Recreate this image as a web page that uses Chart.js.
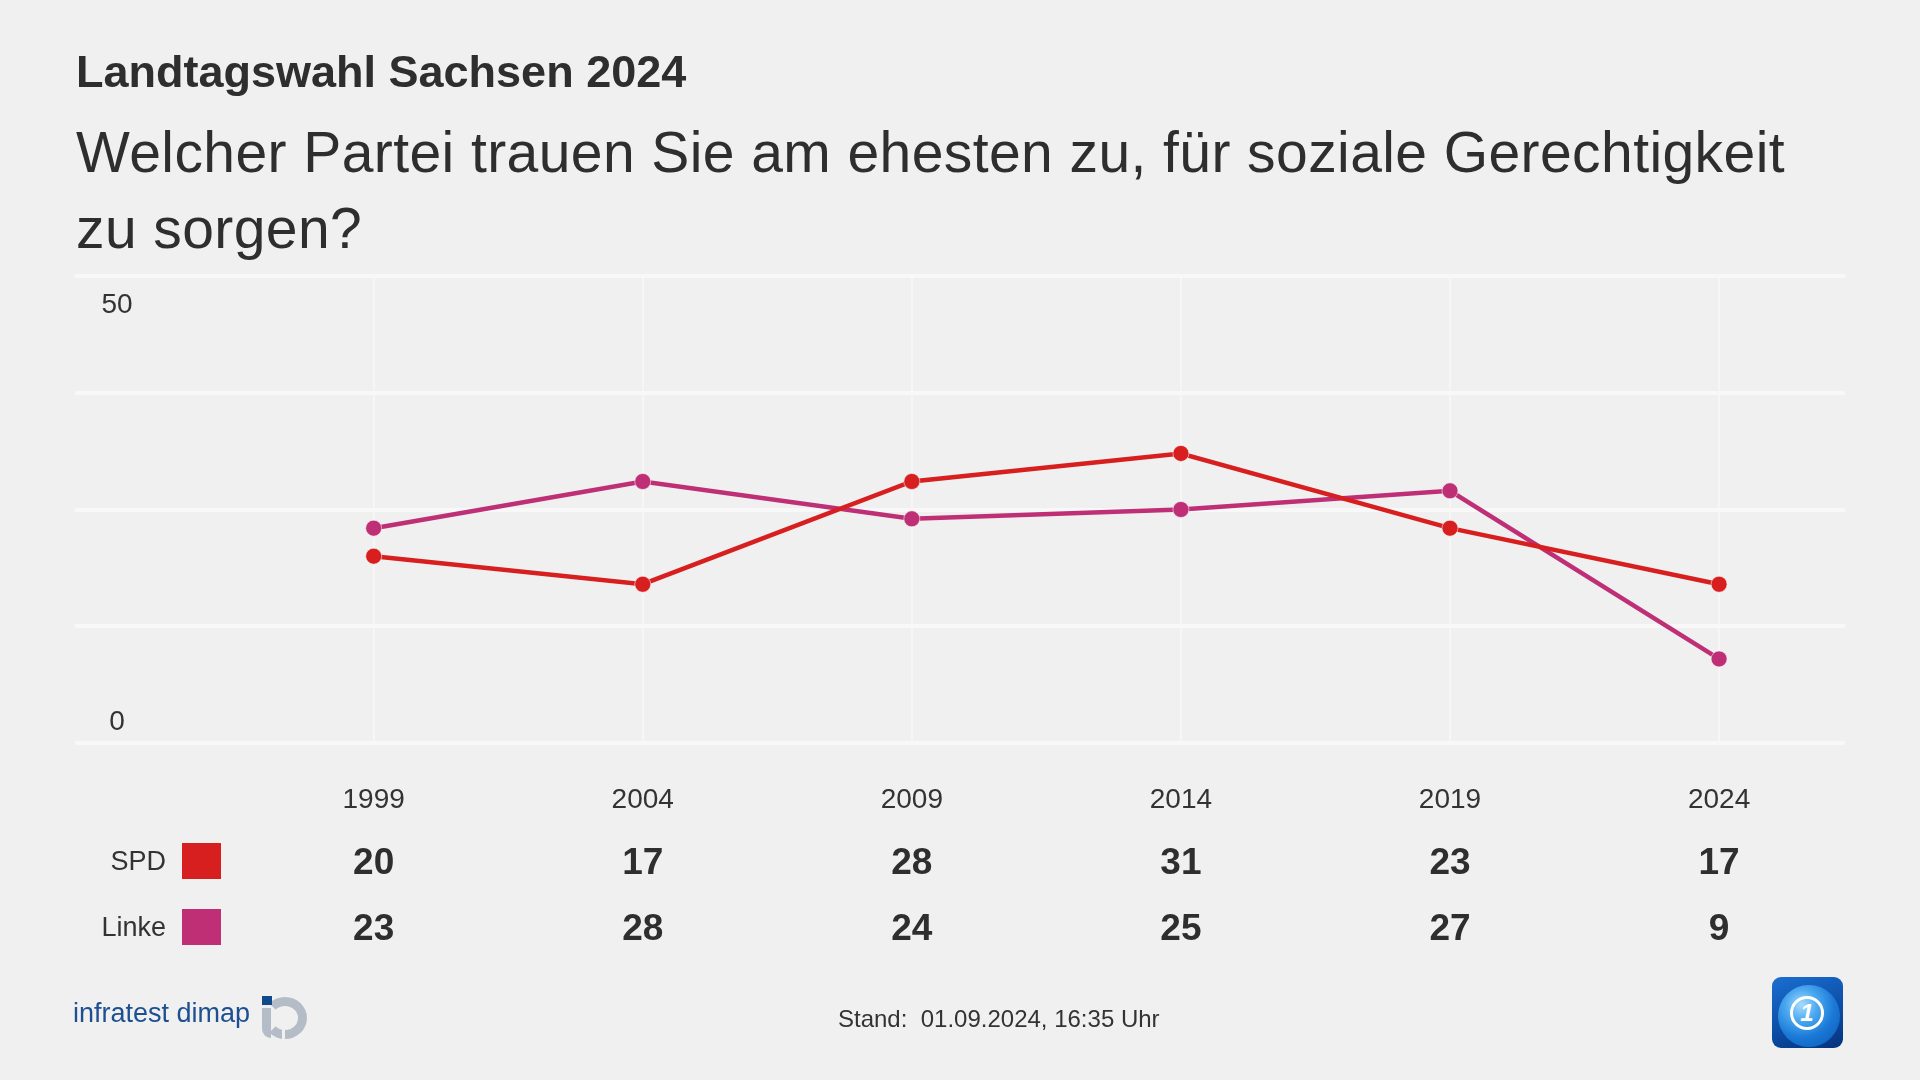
<!DOCTYPE html>
<html lang="de">
<head>
<meta charset="utf-8">
<title>Landtagswahl Sachsen 2024</title>
<script src="https://cdn.jsdelivr.net/npm/chart.js@4/dist/chart.umd.min.js"></script>
<style>
  html, body { margin: 0; padding: 0; background: #f0f0f0; }
  body { width: 1920px; height: 1080px; position: relative; overflow: hidden;
         font-family: "Liberation Sans", Arial, sans-serif; color: #2e2e2e; }
  #chart { position: absolute; left: 0; top: 0; }
  .title { position: absolute; left: 76px; top: 49px; font-size: 45px; line-height: 46px; font-weight: bold; white-space: nowrap; }
  .subtitle { position: absolute; left: 76px; top: 114px; font-size: 57px; line-height: 76px; letter-spacing: 0.42px; white-space: nowrap; }
  .source { position: absolute; left: 73px; top: 1000px; font-size: 27px; line-height: 27px; color: #1d4f91; }
  .idlogo { position: absolute; left: 262px; top: 996px; width: 46px; height: 44px; }
  .idlogo .dot { position: absolute; left: 0; top: 0; width: 10px; height: 9px; background: #0f4a8a; }
  .idlogo .ring { position: absolute; left: 1px; top: 1px; width: 26px; height: 24px; border: 9px solid #b4bdc7;
                  border-left-color: transparent; border-radius: 50%; }
  .idlogo .stem { position: absolute; left: 0; top: 12px; width: 9px; height: 30px; background: #b4bdc7; border-radius: 0 0 0 9px; }
  .idlogo .gap { position: absolute; left: 20px; top: 30px; width: 3px; height: 14px; background: #f0f0f0; }
  .stand { position: absolute; left: 838px; top: 1007px; font-size: 24px; line-height: 24px; color: #333; white-space: nowrap; }
  .ard { position: absolute; left: 1772px; top: 977px; width: 71px; height: 71px; border-radius: 9px; overflow: hidden;
         background: linear-gradient(160deg, #1a6fd0 0%, #0d4ea8 55%, #06337c 100%); }
  .ard .globe { position: absolute; left: 6px; top: 8px; width: 62px; height: 62px; border-radius: 50%;
                background: radial-gradient(circle at 38% 32%, #a6dcff 0%, #4aa8f0 28%, #1a78d6 58%, #0d56b3 100%); }
  .ard .c { position: absolute; left: 18px; top: 19px; width: 28px; height: 28px; border: 3px solid #fff; border-radius: 50%;
            color: #fff; font-weight: bold; font-size: 24px; line-height: 28px; text-align: center; font-style: italic; }
</style>
</head>
<body>
<canvas id="chart" width="1920" height="1080"></canvas>
<div class="title">Landtagswahl Sachsen 2024</div>
<div class="subtitle">Welcher Partei trauen Sie am ehesten zu, für soziale Gerechtigkeit<br>zu sorgen?</div>
<div class="source">infratest dimap</div>
<div class="idlogo"><div class="ring"></div><div class="stem"></div><div class="gap"></div><div class="dot"></div></div>
<div class="stand">Stand:&nbsp; 01.09.2024, 16:35 Uhr</div>
<div class="ard"><div class="globe"></div><div class="c">1</div></div>
<script>
const years = [1999, 2004, 2009, 2014, 2019, 2024];
const spdValues = [20, 17, 28, 31, 23, 17];
const linkeValues = [23, 28, 24, 25, 27, 9];
const parties = ['SPD', 'Linke'];
const partyColors = ['#d71f1f', '#be2f76'];
const yLabels = [50, 0];

Chart.defaults.font.family = '"Liberation Sans", Arial, sans-serif';
Chart.defaults.color = '#333';

function toPoints(values) {
  return years.map((yr, i) => ({ x: yr, y: values[i] }));
}

// value table under the chart + inside y labels
const tablePlugin = {
  id: 'tableRows',
  afterDraw(chart) {
    const ctx = chart.ctx;
    const xs = chart.scales.x;
    const ys = chart.scales.y;
    ctx.save();
    ctx.fillStyle = '#333';
    ctx.textBaseline = 'alphabetic';
    ctx.textAlign = 'center';
    ctx.font = '28px "Liberation Sans", Arial, sans-serif';
    yLabels.forEach(v => {
      const py = ys.getPixelForValue(v);
      ctx.fillText(String(v), 117, v === ys.max ? py + 37 : py - 13);
    });

    const rowBase = [874, 940];
    chart.data.datasets.forEach((ds, i) => {
      const base = rowBase[i];
      ctx.textAlign = 'right';
      ctx.font = '27px "Liberation Sans", Arial, sans-serif';
      ctx.fillStyle = '#333';
      ctx.fillText(ds.label, 166, base - 4);
      ctx.fillStyle = ds.borderColor;
      ctx.fillRect(182, base - 31, 39, 36);
      ctx.fillStyle = '#2e2e2e';
      ctx.textAlign = 'center';
      ctx.font = 'bold 37px "Liberation Sans", Arial, sans-serif';
      ds.data.forEach(p => {
        ctx.fillText(String(p.y), xs.getPixelForValue(p.x), base);
      });
    });
    ctx.restore();
  }
};

new Chart(document.getElementById('chart'), {
  type: 'line',
  data: {
    datasets: [{
        label: parties[0],
        data: toPoints(spdValues),
        borderColor: partyColors[0],
        backgroundColor: partyColors[0],
        borderWidth: 4.5,
        pointRadius: 8,
        pointBorderWidth: 1,
        pointBorderColor: 'rgba(255,255,255,0.55)',
        fill: false
      }, {
        label: parties[1],
        data: toPoints(linkeValues),
        borderColor: partyColors[1],
        backgroundColor: partyColors[1],
        borderWidth: 4.5,
        pointRadius: 8,
        pointBorderWidth: 1,
        pointBorderColor: 'rgba(255,255,255,0.55)',
        fill: false
      }
    ]
  },
  options: {
    responsive: false,
    devicePixelRatio: 1,
    animation: false,
    layout: { padding: { left: 75, right: 75, top: 276, bottom: 0 } },
    plugins: {
      legend: { display: false },
      tooltip: { enabled: false },
      title: { display: false }
    },
    scales: {
      x: {
        type: 'linear',
        min: 1993.45,
        max: 2026.34,
        afterBuildTicks: s => { s.ticks = years.map(v => ({ value: v })); },
        afterFit: s => { s.height = 337; },
        grid: { color: '#f6f6f6', lineWidth: 2, drawTicks: false },
        border: { display: false },
        ticks: {
          padding: 40,
          color: '#333',
          font: { size: 28 },
          callback: v => String(v)
        }
      },
      y: {
        min: 0,
        max: 50,
        afterFit: s => { s.width = 0; },
        grid: { color: '#f8f8f8', lineWidth: 4, drawTicks: false },
        border: { display: false },
        ticks: { stepSize: 12.5, display: false }
      }
    }
  },
  plugins: [tablePlugin]
});
</script>
</body>
</html>
